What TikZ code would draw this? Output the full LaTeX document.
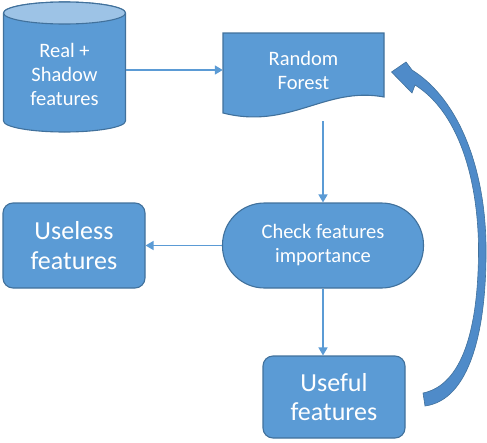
\documentclass[tikz,border=0pt]{standalone}
\usepackage{fontspec}
\setmainfont{Carlito}
\usetikzlibrary{arrows.meta}
\definecolor{boxfill}{HTML}{5B9BD5}
\definecolor{boxline}{HTML}{41719C}
\definecolor{capfill}{HTML}{9DC3E6}
\definecolor{loopfill}{HTML}{4F8BC9}
\begin{document}
\begin{tikzpicture}[x=1pt,y=-1pt,
  smalltext/.style={text=white,font=\fontsize{20.5}{24}\selectfont,align=center},
  bigtext/.style={text=white,font=\fontsize{26}{29.5}\selectfont,align=center},
  shapeline/.style={draw=boxline,line width=1.1pt,fill=boxfill},
  roundbox/.style={shapeline,rounded corners=10pt,inner sep=0pt},
  flow/.style={draw=boxfill,line width=1.5pt,-{Triangle[length=8pt,width=9pt]}}]
\useasboundingbox (0,0) rectangle (487,442);

% data store: cylinder body and lighter top cap
\draw[shapeline] (3.5,13) -- (3.5,121) arc[start angle=180,end angle=0,x radius=61,y radius=11]
  -- (125.5,13) arc[start angle=0,end angle=-180,x radius=61,y radius=11] -- cycle;
\draw[draw=boxline,line width=1.1pt,fill=capfill] (64.5,13) ellipse[x radius=61,y radius=11];
\node[smalltext,minimum width=122pt,minimum height=108pt,inner sep=0pt] (data) at (64.5,74) {Real +\\Shadow\\features};

% document shape with wavy lower edge
\draw[shapeline] (223,33) -- (384,33) -- (384,97)
  .. controls (325,86) and (290,130) .. (223,113) -- cycle;
\node[smalltext,minimum width=161pt,minimum height=82pt,inner sep=0pt] (rf) at (303.5,70) {Random\\Forest};

% terminal shape
\node[shapeline,rounded corners=42pt,minimum width=201pt,minimum height=85pt,inner sep=0pt,smalltext]
  (check) at (323,245.5) {Check features\\importance};

% result boxes
\node[roundbox,minimum width=142pt,minimum height=85pt,bigtext] (useless) at (74,245.5) {Useless\\features};
\node[roundbox,minimum width=142pt,minimum height=82pt,bigtext] (useful) at (334,397) {Useful\\features};

% connectors
\draw[flow] (data.east |- 0,70) -- (rf.west |- 0,70);
\draw[flow] (323,121) -- (check.north);
\draw[flow] (check.west) -- (useless.east);
\draw[flow] (check.south) -- (useful.north -| check.south);

% feedback loop: tapered block arrow back to the forest
\coordinate (tailout) at (425,406);
\coordinate (tailin) at (423,393);
\coordinate (tip) at (391.5,72);
\fill[loopfill,draw=boxline,line width=0.6pt]
  (tailout) .. controls (470,400) and (487,330) .. (486,245)
  .. controls (485,170) and (460,100) .. (412,70)
  -- (406,62) -- (tip) -- (412,93) -- (415,85)
  .. controls (455,110) and (477,170) .. (478.5,245)
  .. controls (479,330) and (462,385) .. (tailin) -- cycle;
\end{tikzpicture}
\end{document}
